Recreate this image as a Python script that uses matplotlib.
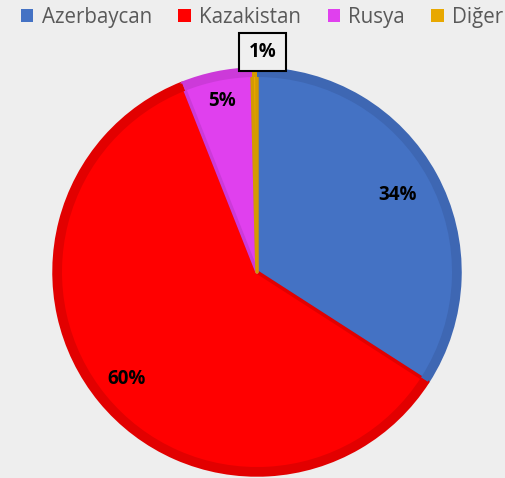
import matplotlib
matplotlib.use("Agg")
import matplotlib.pyplot as plt
from matplotlib.patches import Wedge
import numpy as np

countries = ["Azerbaycan", "Kazakistan", "Rusya", "Diğer"]
shares = [34.1, 59.9, 5.6, 0.4]          # slice sizes
pct_labels = ["34%", "60%", "5%", "1%"]   # labels as printed on the chart

colors = ["#4472C4", "#FF0000", "#E040EE", "#E8A800"]
edges = ["#3E67B3", "#E20000", "#CC3AD9", "#D49A00"]
label_dist = [0.79, 0.83, 0.86, 1.07]
label_shift = [(0, 0), (0, 0), (0, 0), (6, 2)]   # points

plt.rcParams["font.family"] = ["Open Sans", "DejaVu Sans"]

fig = plt.figure(figsize=(5.06, 4.78), dpi=100, facecolor="#eeeeee")
ax = fig.add_axes([0, 0, 1, 1])
ax.set_facecolor("#eeeeee")
ax.axis("off")

cx, cy, R = 257, 206, 203
wedges, _ = ax.pie(shares, colors=colors, startangle=90, counterclock=False,
                   center=(cx, cy), radius=R, frame=True,
                   wedgeprops=dict(linewidth=2.5, joinstyle="round"))
# darker rim along the outside of each slice
for w, ec in zip(wedges, edges):
    w.set_edgecolor(ec)
    ax.add_patch(Wedge((cx, cy), R, w.theta1, w.theta2, width=8,
                       facecolor=ec, edgecolor="none"))

for i, w in enumerate(wedges):
    ang = np.deg2rad((w.theta1 + w.theta2) / 2)
    x = cx + R * label_dist[i] * np.cos(ang)
    y = cy + R * label_dist[i] * np.sin(ang)
    kw = {}
    if i == 3:
        kw["bbox"] = dict(boxstyle="square,pad=0.5", fc="#f0f0f0", ec="black", lw=1.5)
    ax.annotate(pct_labels[i], (x, y), xytext=label_shift[i], textcoords="offset points",
                ha="center", va="center", fontsize=13.5,
                fontweight="bold", color="black", **kw)

ax.set_xlim(0, 506)
ax.set_ylim(0, 478)
ax.set_aspect("equal")

handles = [plt.Rectangle((0, 0), 1, 1, fc=c) for c in colors]
leg = fig.legend(handles, countries, loc="upper center", ncol=4,
                 bbox_to_anchor=(0.518, 1.025), frameon=False,
                 handlelength=0.6, handleheight=0.6, handletextpad=0.4,
                 columnspacing=1.3, fontsize=14.8)
for t in leg.get_texts():
    t.set_color("#595959")

fig.savefig("out.png", dpi=100, facecolor=fig.get_facecolor())
